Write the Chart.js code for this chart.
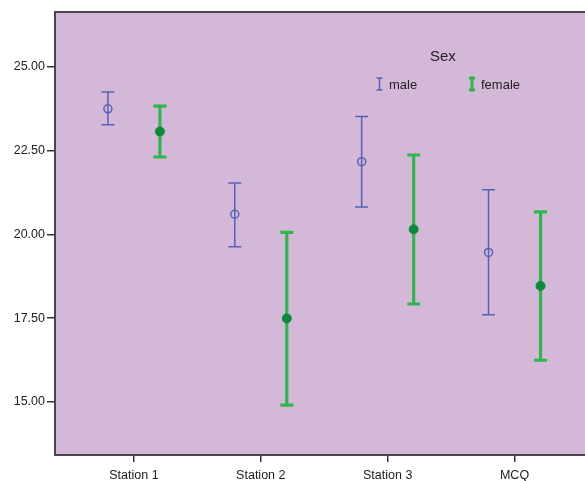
<!DOCTYPE html>
<html>
<head>
<meta charset="utf-8">
<title>Scores by station and sex</title>
<script src="https://cdn.jsdelivr.net/npm/chart.js@4.4.1/dist/chart.umd.min.js"></script>
<style>
  html, body { margin: 0; padding: 0; background: #ffffff; overflow: hidden; }
  canvas { display: block; }
</style>
</head>
<body>
<canvas id="chart" width="585" height="481"></canvas>
<script>
// Categories and per-group means with 95% CI bounds
const categories = ['Station 1', 'Station 2', 'Station 3', 'MCQ'];
const maleMean   = [23.75, 20.60, 22.17, 19.46];
const maleLower  = [23.27, 19.63, 20.82, 17.60];
const maleUpper  = [24.25, 21.53, 23.52, 21.33];
const femaleMean  = [23.07, 17.49, 20.15, 18.46];
const femaleLower = [22.31, 14.90, 17.92, 16.24];
const femaleUpper = [23.83, 20.06, 22.37, 20.67];
const yTicks = [15, 17.5, 20, 22.5, 25];

const MALE_COLOR = '#5561b8';
const FEMALE_COLOR = '#2fb64f';
const FEMALE_POINT = '#0b8a3c';
const PLOT_BG = '#d4b8d7';
const FRAME = '#4a4450';
const TEXT = '#222222';
const GROUP_SHIFT = 0.205;

function points(means, shift) {
  return means.map((m, i) => ({ x: i + 1 + shift, y: m }));
}

const groups = [
  { lower: maleLower, upper: maleUpper, shift: -GROUP_SHIFT, color: MALE_COLOR, width: 1.5, cap: 13 },
  { lower: femaleLower, upper: femaleUpper, shift: GROUP_SHIFT, color: FEMALE_COLOR, width: 3.2, cap: 13 }
];

// Plot background and frame (the plot runs off the right edge of the canvas)
const framePlugin = {
  id: 'frame',
  beforeDraw(chart) {
    const { ctx, chartArea: a } = chart;
    ctx.save();
    ctx.fillStyle = PLOT_BG;
    ctx.fillRect(a.left, a.top, chart.width - a.left + 5, a.bottom - a.top);
    ctx.restore();
  },
  afterDatasetsDraw(chart) {
    const { ctx, chartArea: a } = chart;
    ctx.save();
    ctx.strokeStyle = FRAME;
    ctx.lineWidth = 2;
    ctx.beginPath();
    ctx.moveTo(chart.width + 5, a.top);
    ctx.lineTo(a.left, a.top);
    ctx.lineTo(a.left, a.bottom);
    ctx.lineTo(chart.width + 5, a.bottom);
    ctx.stroke();
    ctx.restore();
  }
};

// Error bars with caps, drawn beneath the mean markers
const errorBarPlugin = {
  id: 'errorBars',
  beforeDatasetsDraw(chart) {
    const { ctx, scales: { x, y } } = chart;
    ctx.save();
    groups.forEach(g => {
      ctx.strokeStyle = g.color;
      ctx.lineWidth = g.width;
      ctx.lineCap = 'butt';
      g.lower.forEach((lo, i) => {
        const px = x.getPixelForValue(i + 1 + g.shift);
        const yLo = y.getPixelForValue(lo);
        const yHi = y.getPixelForValue(g.upper[i]);
        ctx.beginPath();
        ctx.moveTo(px, yLo);
        ctx.lineTo(px, yHi);
        ctx.moveTo(px - g.cap / 2, yLo);
        ctx.lineTo(px + g.cap / 2, yLo);
        ctx.moveTo(px - g.cap / 2, yHi);
        ctx.lineTo(px + g.cap / 2, yHi);
        ctx.stroke();
      });
    });
    ctx.restore();
  }
};

// Legend titled "Sex" with small error-bar glyphs
const legendPlugin = {
  id: 'sexLegend',
  afterDraw(chart) {
    const { ctx } = chart;
    ctx.save();
    ctx.fillStyle = TEXT;
    ctx.textBaseline = 'middle';
    ctx.textAlign = 'left';
    ctx.font = '15px "Liberation Sans", Arial, sans-serif';
    ctx.fillText('Sex', 430, 57);
    ctx.font = '13px "Liberation Sans", Arial, sans-serif';
    ctx.fillText('male', 389, 85);
    ctx.fillText('female', 481, 85);
    const glyph = (cx, color, w) => {
      ctx.strokeStyle = color;
      ctx.lineWidth = w;
      ctx.beginPath();
      ctx.moveTo(cx, 78); ctx.lineTo(cx, 90);
      ctx.moveTo(cx - 3, 78); ctx.lineTo(cx + 3, 78);
      ctx.moveTo(cx - 3, 90); ctx.lineTo(cx + 3, 90);
      ctx.stroke();
    };
    glyph(379.5, MALE_COLOR, 1.5);
    glyph(472, FEMALE_COLOR, 3);
    ctx.restore();
  }
};

new Chart(document.getElementById('chart'), {
  type: 'scatter',
  data: {
    datasets: [
      {
        label: 'male',
        data: points(maleMean, -GROUP_SHIFT),
        pointStyle: 'circle',
        pointRadius: 4,
        pointBorderWidth: 1.5,
        pointBorderColor: MALE_COLOR,
        pointBackgroundColor: 'rgba(0,0,0,0)'
      },
      {
        label: 'female',
        data: points(femaleMean, GROUP_SHIFT),
        pointStyle: 'circle',
        pointRadius: 4.5,
        pointBorderWidth: 1,
        pointBorderColor: FEMALE_POINT,
        pointBackgroundColor: FEMALE_POINT
      }
    ]
  },
  options: {
    responsive: false,
    animation: false,
    devicePixelRatio: 1,
    layout: { padding: { top: 12, right: 0, left: 0, bottom: 0 } },
    plugins: {
      legend: { display: false },
      tooltip: { enabled: false }
    },
    scales: {
      x: {
        type: 'linear',
        min: 0.378,
        max: 4.512,
        afterBuildTicks(scale) { scale.ticks = categories.map((c, i) => ({ value: i + 1 })); },
        afterFit(scale) { scale.height = 26; },
        ticks: {
          autoSkip: false,
          maxRotation: 0,
          padding: 6,
          color: TEXT,
          font: { family: '"Liberation Sans", Arial, sans-serif', size: 12.5 },
          callback: (v) => categories[Math.round(v) - 1]
        },
        grid: { drawOnChartArea: false, drawTicks: true, tickLength: 7, color: '#333', lineWidth: 1.5 },
        border: { display: false }
      },
      y: {
        type: 'linear',
        min: 13.41,
        max: 26.64,
        afterBuildTicks(scale) { scale.ticks = yTicks.map(v => ({ value: v })); },
        afterFit(scale) { scale.width = 55; },
        ticks: {
          padding: 2,
          color: TEXT,
          font: { family: '"Liberation Sans", Arial, sans-serif', size: 12.5 },
          callback: (v) => Number(v).toFixed(2)
        },
        grid: { drawOnChartArea: false, drawTicks: true, tickLength: 8, color: '#333', lineWidth: 1.5 },
        border: { display: false }
      }
    }
  },
  plugins: [framePlugin, errorBarPlugin, legendPlugin]
});
</script>
</body>
</html>
